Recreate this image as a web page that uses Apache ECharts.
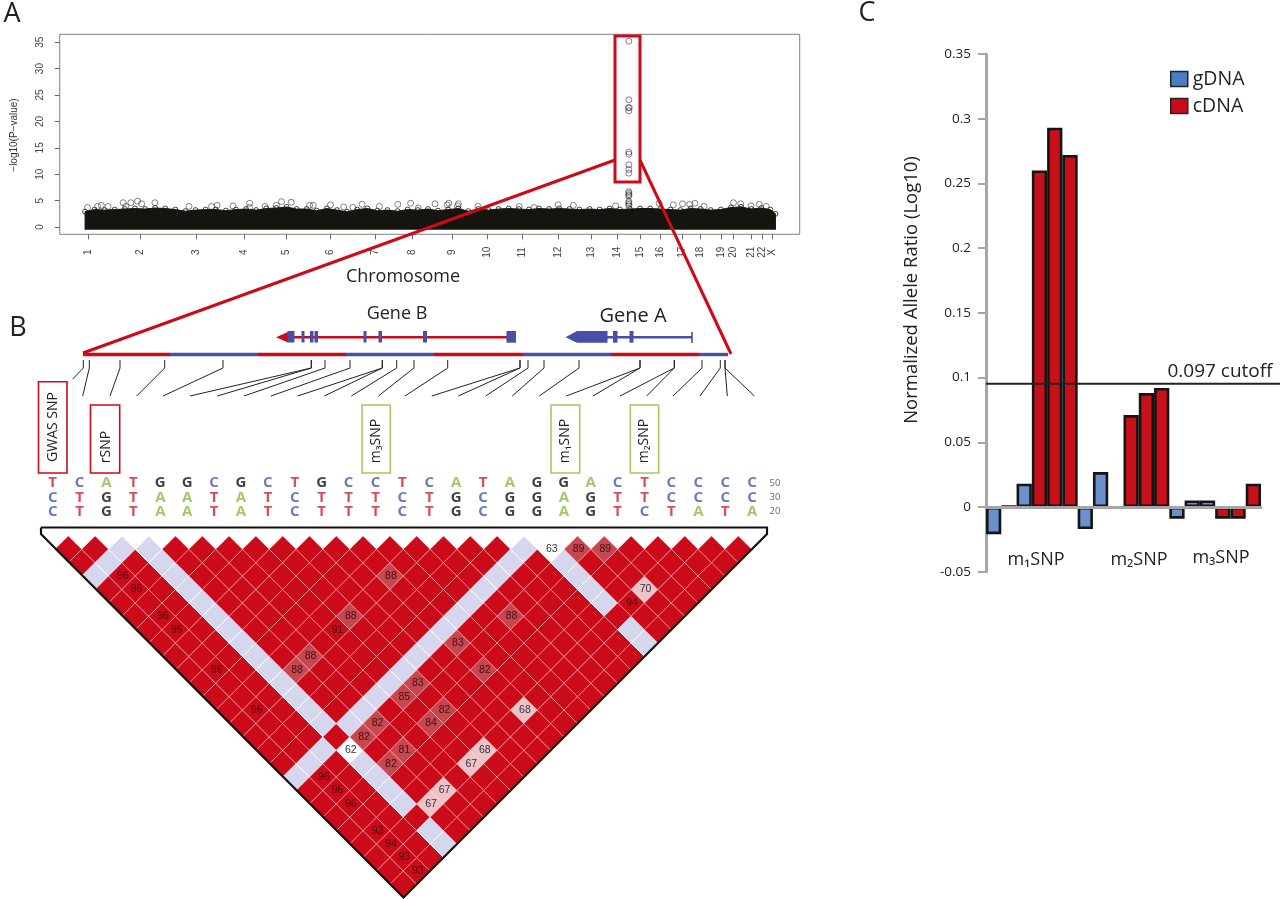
<!DOCTYPE html>
<html><head><meta charset="utf-8">
<script src="https://cdn.jsdelivr.net/npm/echarts@6/dist/echarts.min.js"></script>
<style>html,body{margin:0;padding:0;background:#fff}#c{width:1280px;height:899px}</style>
</head><body><div id="c"></div>
<script>
// ---------- Panel A data (positions in scaled Mb along the genome, -log10 P) ----------
const chromNames = ['1','2','3','4','5','6','7','8','9','10','11','12','13','14','15','16','17','18','19','20','21','22','X'];
const chromTicks = [0,232,485,695,886,1078,1282,1447,1622,1778,1933,2094,2241,2357,2459,2552,2646,2726,2820,2877,2955,3002,3048];
const yTicksA = [0,5,10,15,20,25,30,35];
const bandPos = [-12,-12,30,75,120,165,210,255,300,345,390,435,480,525,570,615,660,705,750,795,840,885,930,975,1020,1065,1110,1155,1200,1245,1290,1335,1380,1425,1470,1515,1560,1605,1650,1695,1740,1785,1830,1875,1920,1965,2010,2055,2100,2145,2190,2235,2280,2325,2370,2415,2460,2505,2550,2595,2640,2685,2730,2775,2820,2865,2910,2955,3000,3040,3063,3063];
const bandTop = [-0.5,2.9,3.3,3.2,3.3,3.4,3.5,3.4,3.6,3.5,3.3,3.0,3.2,3.3,3.3,3.1,3.3,3.4,3.2,3.5,3.6,3.8,3.4,3.4,3.1,3.5,3.2,2.9,3.3,3.5,3.1,3.2,3.0,3.3,3.2,3.4,3.1,3.3,3.5,3.0,3.4,3.2,3.4,3.5,3.4,3.3,3.5,3.4,3.5,3.4,3.3,3.4,3.3,3.5,3.3,3.4,3.5,3.5,3.4,3.3,3.2,3.5,3.4,3.2,3.3,3.7,3.8,3.4,3.6,3.3,2.5,-0.5];
const peakPos = [-1,44,60,90,158,169,192,222,240,299,451,551,576,647,721,721,790,840,863,906,988,1004,1081,1140,1181,1222,1299,1381,1438,1472,1547,1601,1608,1647,1651,1738,1922,1988,2095,2163,2351,2545,2608,2649,2681,2704,2745,2876,2908,2954,2990,3022,
 2410,2410,2408,2412,2410,2410,2410,2410,2410,2410,2410,2410,2410,2410,2410,2410,2410,2410];
const peakLogP = [3.7,3.9,4.1,3.9,4.6,3.9,4.6,4.9,4.4,4.6,3.9,3.9,4.1,4.0,4.5,3.7,3.9,4.1,4.8,4.7,4.1,4.1,4.2,3.8,3.7,4.3,3.9,4.3,4.5,3.6,4.4,4.2,4.5,4.0,4.4,3.9,3.9,3.7,4.2,4.1,4.0,4.5,4.2,4.4,4.3,4.5,3.9,4.6,4.4,4.0,4.3,3.9,
 35.2,24.1,22.6,22.6,22.0,14.2,13.8,11.8,10.9,10.2,6.7,6.4,6.1,5.9,4.9,4.6,4.3,4.0];

// ---------- Panel B data ----------
const hapFreq = ['50','30','20'];
const hap50 = ['T','C','A','T','G','G','C','G','C','T','G','C','C','T','C','A','T','A','G','G','A','C','T','C','C','C','C'];
const hap30 = ['C','T','G','T','A','A','T','A','T','C','T','T','T','C','T','G','C','G','G','A','G','T','T','C','C','C','C'];
const hap20 = ['C','T','G','T','A','A','T','A','T','C','T','T','T','C','T','G','C','G','G','A','G','T','C','T','A','T','A'];
const ldLabelled = [[1,4,96],[1,5,96],[1,7,96],[1,8,96],[1,11,96],[1,14,96],[1,19,96],[1,20,96],[1,21,96],[1,23,93],[1,24,94],[1,25,93],[1,26,93],
 [11,14,88],[8,14,88],[7,14,91],[5,14,88],[4,14,88],[14,20,88],[11,19,83],[11,21,82],[11,24,68],[8,19,83],[7,19,85],[8,21,82],[7,21,84],[8,24,68],[7,24,67],
 [5,24,67],[4,24,67],[5,19,82],[4,19,82],[5,21,81],[4,21,82],[3,19,62],[18,19,63],[19,20,89],[20,21,89],[20,24,70],[19,24,94]];
const ldLowLod = [[0,3],[1,3],[2,3],[3,4],[3,5],[3,6],[3,7],[3,8],[3,9],[3,10],[3,11],[3,12],[3,13],[3,14],[3,15],[3,16],[3,17],[3,20],[3,21],[3,22],[3,23],[3,25],[3,26],
 [0,18],[1,18],[2,18],[4,18],[5,18],[6,18],[7,18],[8,18],[9,18],[10,18],[11,18],[12,18],[13,18],[14,18],[15,18],[16,18],[17,18],[18,20],[18,21],[18,22],[18,23],[18,25],[18,26]];

// ---------- Panel C data ----------
const barCats = ['1','2','3','4','5','6','7','8','9','10','11','12','13','14','15','16','17','18'];
const gDNA = [-0.021,0.0006,0.018,null,null,null,-0.017,0.027,-0.001,null,null,null,-0.009,0.005,0.005,null,null,null];
const cDNA = [null,null,null,0.26,0.293,0.272,null,null,null,0.071,0.088,0.092,null,null,null,-0.009,-0.009,0.018];
const cutoffDrawn = 0.0953;

// ---------- derived ----------
const UI = '"Open Sans","Noto Sans",sans-serif', RS = '"Liberation Sans",Arial,sans-serif';
const RED = '#cb0a1a', BLUE = '#4650a6', GREEN = '#a6c85e';
const letterColor = {T:'#cc2233',C:'#4c58aa',A:'#8dba44',G:'#111'};
const hapRows = [hap50,hap30,hap20];
const letterData = [];
hapRows.forEach((r,ri)=>r.forEach((l,k)=>letterData.push({value:[k,hapFreq[ri]],label:{formatter:l,color:letterColor[l]}})));
const ldMap = {}, lowMap = {};
ldLabelled.forEach(d=>ldMap[d[0]+'_'+d[1]]=d[2]);
ldLowLod.forEach(d=>lowMap[d[0]+'_'+d[1]]=1);
const ldCells = [];
for(let i=0;i<27;i++)for(let j=i+1;j<27;j++){
  const k=i+'_'+j;
  ldCells.push([(i+j)/2,j-i, ldMap[k]||0, lowMap[k]?1:0]);
}
function cellColor(v,low){
  if(low) return '#d6d6ee';
  if(!v||v>=90) return RED;
  if(v>=80) return '#c84650';
  if(v>=65) return '#edc3c8';
  return '#ffffff';
}

// ---------- annotations ----------
const g = [];
function txt(s,x,y,size,o){o=o||{};g.push({type:'text',x,y,z:100,rotation:o.rot||0,style:{text:s,font:(o.weight||'normal')+' '+size+'px '+(o.font||UI),fill:o.color||'#222',textAlign:'center',textVerticalAlign:'middle'}});}
function ln(pts,color,w){g.push({type:'polyline',z:100,shape:{points:pts},style:{stroke:color,lineWidth:w,fill:null,lineJoin:'miter'}});}
function box(x0,y0,x1,y1,stroke,fill,w){g.push({type:'rect',z:100,shape:{x:x0,y:y0,width:x1-x0,height:y1-y0},style:{stroke:stroke||null,fill:fill||null,lineWidth:w||0}});}
txt('A',12,14,27); txt('B',18,328,27); txt('C',867,13,27);
txt('Chromosome',403,277,18);
txt('−log10(P−value)',14,135,10,{rot:Math.PI/2,font:RS,color:'#333'});
box(615,36,640,182,RED,null,3);
ln([[615,160],[83,353]],RED,3); ln([[640,160],[731,354]],RED,3);
// locus track
[[83,170,RED],[170,258,BLUE],[258,346,RED],[346,434,BLUE],[434,523,RED],[523,611,BLUE],[611,699,RED],[699,728,BLUE]].forEach(s=>ln([[s[0],354.5],[s[1],354.5]],s[2],3.4));
// gene B
ln([[284,337.3],[511,337.3]],RED,2.6);
g.push({type:'polygon',z:100,shape:{points:[[276,337.3],[288,332],[288,342.6]]},style:{fill:RED}});
box(287.5,331,294.5,342.5,null,BLUE);
[[301.5,3],[310,3.5],[314.5,3.5],[363.5,3],[378.5,3.5],[423,4]].forEach(e=>box(e[0],331,e[0]+e[1],342.5,null,BLUE));
box(506.5,331,516,342.7,null,BLUE);
txt('Gene B',397,314,18);
// gene A
ln([[607,337.3],[692,337.3]],BLUE,2.6);
ln([[692,332],[692,343]],BLUE,1.6);
g.push({type:'polygon',z:100,shape:{points:[[565.5,337.3],[577,331],[607.5,331],[607.5,342.7],[577,342.7]]},style:{fill:BLUE}});
box(613,331,617.5,342.7,null,BLUE); box(629.5,331,633.5,342.7,null,BLUE);
txt('Gene A',633,316,20);
// SNP connectors
const tops=[83.3,89.3,120,164.7,223,311.3,311.3,325,350,382.3,382.3,396.7,414,447.7,520,520,528,544,579,640,640,674.3,674.3,702,720.3,725,725];
const bots=[72.7,82.7,110,136.7,163,190,217.3,244,271,297.7,324.3,351.3,378.3,405,431.7,458.3,485.7,512.3,539.3,566.3,593,620,646.7,673,700,727.3,754.3];
tops.forEach((t,i)=>ln([[t,360],[t,368],[bots[i],i===0?379:396]],'#222',1));
// SNP boxes
[[38.5,381.7,67,473,RED,'GWAS SNP',53,427],[90.5,405,119.7,473,RED,'rSNP',106,447],[362,405,390.3,473,GREEN,'m₃SNP',376.5,441],[551,405,579.7,473,GREEN,'m₁SNP',565.5,441],[630.3,405,658.7,473,GREEN,'m₂SNP',644.5,441]].forEach(b=>{
  box(b[0],b[1],b[2],b[3],b[4],'#fff',1.6); txt(b[5],b[6],b[7],14,{rot:Math.PI/2});
});
// LD outline
ln([[41,527.5],[767,527.5],[767,534],[403.5,897.5],[41,534],[41,527.5]],'#111',2.2);
// C labels
txt('Normalized Allele Ratio (Log10)',912,290,18.5,{rot:Math.PI/2});
txt('0.097 cutoff',1220,372,19);
txt('m₁SNP',1036,560,18); txt('m₂SNP',1139,560,18); txt('m₃SNP',1221,558,18);

const option = {
  animation:false, backgroundColor:'#fff',
  grid:[
    {left:59.7,top:34.3,width:740,height:200,show:true,borderColor:'#808080',borderWidth:1,backgroundColor:'transparent'},
    {left:39.25,top:476,width:726.3,height:42.5,show:false},
    {left:41,top:527.5,width:726,height:370.2,show:false},
    {left:986,top:54,width:275,height:517.7,show:false},
    {left:986,top:54,width:294,height:517.7,show:false}
  ],
  xAxis:[
    {gridIndex:0,type:'value',min:-125,max:3171,splitLine:{show:false},axisLine:{show:false,onZero:false},
      axisTick:{show:true,length:5,lineStyle:{color:'#666'},customValues:chromTicks},
      axisLabel:{rotate:90,align:'center',margin:18,fontSize:10,fontFamily:RS,color:'#444',customValues:chromTicks,formatter:v=>chromNames[chromTicks.indexOf(v)]}},
    {gridIndex:1,type:'value',min:-0.5,max:26.5,show:false},
    {gridIndex:2,type:'value',min:-0.519,max:26.57,show:false},
    {gridIndex:3,type:'category',data:barCats,axisLine:{onZero:true,lineStyle:{color:'#a6a6a6',width:3}},axisTick:{show:false},axisLabel:{show:false},z:5},
    {gridIndex:4,type:'value',min:0,max:1,show:false}
  ],
  yAxis:[
    {gridIndex:0,type:'value',min:-1.38,max:36.5,splitLine:{show:false},axisLine:{show:false,onZero:false},
      axisTick:{show:true,length:5,lineStyle:{color:'#666'},customValues:yTicksA},
      axisLabel:{rotate:90,margin:14,fontSize:10,fontFamily:RS,color:'#444',customValues:yTicksA}},
    {gridIndex:1,type:'category',data:hapFreq,inverse:true,position:'right',axisLine:{show:false},axisTick:{show:false},
      axisLabel:{margin:4,fontSize:9.5,fontFamily:UI,color:'#666'}},
    {gridIndex:2,type:'value',min:-0.627,max:27,inverse:true,show:false},
    {gridIndex:3,type:'value',min:-0.05,max:0.35,interval:0.05,splitLine:{show:false},
      axisLine:{show:true,onZero:false,lineStyle:{color:'#a6a6a6',width:3}},axisTick:{show:true,length:8,lineStyle:{color:'#a6a6a6',width:2}},
      axisLabel:{margin:15,fontSize:13.5,fontFamily:UI,color:'#222',formatter:v=>String(+v.toFixed(2))}},
    {gridIndex:4,type:'value',min:-0.05,max:0.35,show:false}
  ],
  legend:{left:1170,top:69,padding:0,orient:'vertical',itemWidth:17,itemHeight:15,itemGap:7,selectedMode:false,icon:'rect',
    textStyle:{fontFamily:UI,fontSize:19.5,color:'#222',lineHeight:20},
    data:[{name:'gDNA',itemStyle:{color:'#4c7cc4',borderColor:'#222',borderWidth:1.5}},{name:'cDNA',itemStyle:{color:RED,borderColor:'#222',borderWidth:1.5}}]},
  series:[
    {name:'band',type:'line',xAxisIndex:0,yAxisIndex:0,data:bandPos.map((x,i)=>(bandTop[i]<0?{value:[x,bandTop[i]],symbol:'none'}:[x,bandTop[i]])),
      lineStyle:{color:'#15140f',width:1},areaStyle:{origin:-0.5,color:'#15140f',opacity:1},
      symbol:'circle',symbolSize:5,showSymbol:true,showAllSymbol:true,itemStyle:{color:'transparent',borderColor:'#15140f',borderWidth:0.8},silent:true,z:2},
    {name:'SNPs',type:'scatter',xAxisIndex:0,yAxisIndex:0,data:peakPos.map((x,i)=>[x,peakLogP[i]]),symbol:'circle',symbolSize:6,
      itemStyle:{color:'transparent',borderColor:'#222',borderWidth:0.7},z:3},
    {name:'haplotypes',type:'scatter',xAxisIndex:1,yAxisIndex:1,data:letterData,symbolSize:1,itemStyle:{color:'transparent'},
      label:{show:true,position:'inside',fontSize:15,fontWeight:'bold',fontFamily:UI}},
    {name:'LD',type:'custom',xAxisIndex:2,yAxisIndex:2,data:ldCells,encode:{x:0,y:1},
      renderItem:(p,api)=>{
        const x=api.value(0),y=api.value(1),v=api.value(2),low=api.value(3);
        const P=[api.coord([x,y-1]),api.coord([x+0.5,y]),api.coord([x,y+1]),api.coord([x-0.5,y])];
        const c=api.coord([x,y]);
        const fill=cellColor(v,low);
        const ch=[{type:'polygon',shape:{points:P},style:{fill:fill,stroke:fill==='#d6d6ee'?'rgba(255,255,255,.9)':'rgba(255,215,215,.42)',lineWidth:1}}];
        if(v) ch.push({type:'text',z2:5,style:{text:String(v),x:c[0]+1,y:c[1],font:'10.5px '+RS,fill:v>=90?'#4a0810':(v>=80?'#3a1216':'#333'),textAlign:'center',textVerticalAlign:'middle'}});
        return {type:'group',children:ch};
      },z:2},
    {name:'gDNA',type:'bar',xAxisIndex:3,yAxisIndex:3,data:gDNA,barWidth:'100%',barGap:'-100%',barCategoryGap:0,
      itemStyle:{color:'#6c90cc',borderColor:'#151515',borderWidth:2.6}},
    {name:'cDNA',type:'bar',xAxisIndex:3,yAxisIndex:3,data:cDNA,barWidth:'100%',barGap:'-100%',barCategoryGap:0,
      itemStyle:{color:'#c8101a',borderColor:'#151515',borderWidth:2.6}},
    {name:'cutoff',type:'line',xAxisIndex:4,yAxisIndex:4,data:[[0,cutoffDrawn],[1,cutoffDrawn]],showSymbol:false,lineStyle:{color:'#222',width:2},z:6}
  ],
  graphic:{z:100,elements:g}
};
const chart = echarts.init(document.getElementById('c'),null,{renderer:'canvas'});
chart.setOption(option);
</script>
</body></html>
